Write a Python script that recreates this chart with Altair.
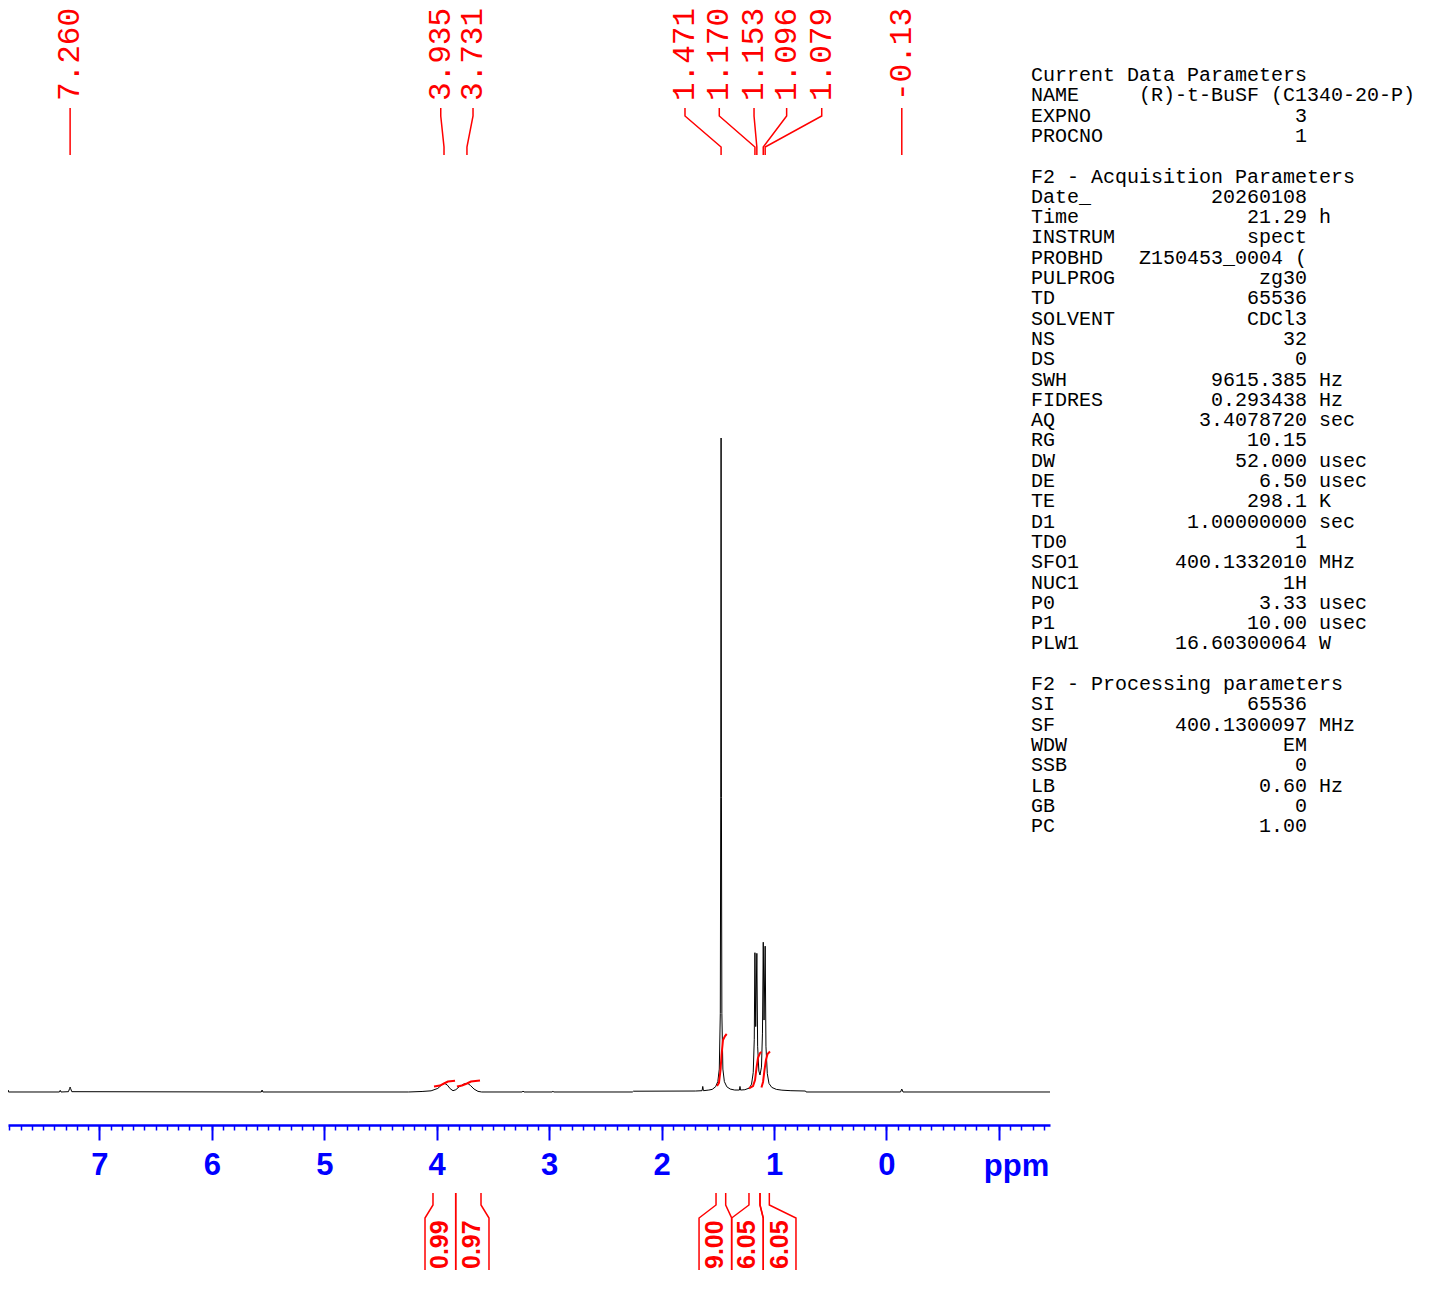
import altair as alt
import pandas as pd

# ---------------- data ----------------
# 1H spectrum trace: chemical shift (ppm) and relative intensity (tallest peak = 100)
trace_ppm = [7.90, 7.815, 7.812, 7.808, 7.355, 7.348, 7.341, 7.275, 7.265, 7.260, 7.255, 7.245,
             5.56, 5.553, 5.546, 4.25, 4.13, 4.05, 3.99, 3.955, 3.930, 3.905, 3.88, 3.855,
             3.83, 3.80, 3.755, 3.725, 3.70, 3.668, 3.633, 3.60, 3.24, 3.232, 3.224,
             2.974, 2.966, 2.958, 2.26, 2.25, 1.70, 1.64, 1.634, 1.628, 1.58, 1.55, 1.52,
             1.50, 1.487, 1.478, 1.474, 1.471, 1.468, 1.464, 1.455, 1.442, 1.42, 1.39, 1.35,
             1.308, 1.303, 1.298, 1.26, 1.22, 1.20, 1.185, 1.176, 1.170, 1.163, 1.153, 1.146,
             1.135, 1.125, 1.112, 1.103, 1.096, 1.089, 1.079, 1.072, 1.06, 1.045, 1.02, 0.98,
             0.93, 0.85, 0.72, 0.715, -0.125, -0.136, -0.147, -1.454]
trace_int = [0.0, 0.0, 0.3, 0.0, 0.0, 0.25, 0.0, 0.05, 0.5, 0.75, 0.5, 0.05,
             0.0, 0.3, 0.0, 0.0, 0.08, 0.18, 0.55, 1.1, 1.33, 1.05, 0.5, 0.2,
             0.35, 0.8, 1.25, 1.33, 1.0, 0.45, 0.1, 0.0, 0.0, 0.15, 0.0,
             0.0, 0.12, 0.0, 0.0, 0.12, 0.15, 0.2, 0.85, 0.2, 0.3, 0.4, 0.8,
             1.6, 3.5, 12.0, 45.0, 100.0, 45.0, 12.0, 3.5, 1.6, 0.8, 0.45, 0.3,
             0.3, 0.85, 0.3, 0.35, 0.6, 1.2, 3.0, 8.0, 21.3, 10.0, 21.2, 7.0,
             3.2, 2.6, 3.8, 9.0, 22.9, 11.0, 22.3, 7.0, 2.8, 1.3, 0.7, 0.4,
             0.28, 0.2, 0.15, 0.0, 0.0, 0.45, 0.0, 0.0]

# integral curves (red), one id per integrated region
integral_id = [1, 1, 1, 1, 1,
               2, 2, 2, 2, 2,
               3, 3, 3, 3, 3, 3, 3,
               4, 4, 4, 4, 4, 4, 4,
               5, 5, 5, 5, 5, 5]
integral_ppm = [4.024, 3.971, 3.935, 3.900, 3.837,
                3.820, 3.775, 3.731, 3.695, 3.615,
                1.507, 1.490, 1.476, 1.467, 1.454, 1.436, 1.421,
                1.223, 1.187, 1.169, 1.156, 1.143, 1.125, 1.112,
                1.112, 1.098, 1.085, 1.072, 1.058, 1.036]
integral_val = [0.84, 0.99, 1.30, 1.60, 1.73,
                0.84, 0.99, 1.30, 1.60, 1.75,
                0.92, 1.38, 3.36, 5.66, 7.95, 8.56, 8.87,
                0.54, 0.92, 1.83, 3.67, 5.20, 5.96, 6.12,
                0.69, 1.53, 3.36, 4.89, 5.81, 6.19]

# peak picking labels
peak_labels = ["7.260", "3.935", "3.731", "1.471", "1.170", "1.153", "1.096", "1.079", "-0.136"]
peak_ppm = [7.260, 3.935, 3.731, 1.471, 1.170, 1.153, 1.096, 1.079, -0.136]
peak_label_ppm = [7.260, 3.964, 3.677, 1.792, 1.487, 1.178, 0.888, 0.576, -0.136]

# integration labels and their regions
int_labels = ["0.99", "0.97", "9.00", "6.05", "6.05"]
int_top_left = [4.033, 3.831, 1.516, 1.223, 1.125]
int_top_right = [3.831, 3.606, 1.430, 1.125, 1.042]
int_box_left = [4.104, 3.831, 1.667, 1.377, 1.096]
int_box_right = [3.831, 3.535, 1.377, 1.096, 0.805]

# axis ticks
major_ticks = [7, 6, 5, 4, 3, 2, 1, 0, -1]
minor_ticks = [round(7.8 - 0.1 * k, 1) for k in range(93)]

# parameter block
current_params = [("NAME", "(R)-t-BuSF (C1340-20-P)", ""), ("EXPNO", "3", ""), ("PROCNO", "1", "")]
acq_params = [("Date_", "20260108", ""), ("Time", "21.29", "h"), ("INSTRUM", "spect", ""),
              ("PROBHD", "Z150453_0004 (", ""), ("PULPROG", "zg30", ""), ("TD", "65536", ""),
              ("SOLVENT", "CDCl3", ""), ("NS", "32", ""), ("DS", "0", ""),
              ("SWH", "9615.385", "Hz"), ("FIDRES", "0.293438", "Hz"), ("AQ", "3.4078720", "sec"),
              ("RG", "10.15", ""), ("DW", "52.000", "usec"), ("DE", "6.50", "usec"),
              ("TE", "298.1", "K"), ("D1", "1.00000000", "sec"), ("TD0", "1", ""),
              ("SFO1", "400.1332010", "MHz"), ("NUC1", "1H", ""), ("P0", "3.33", "usec"),
              ("P1", "10.00", "usec"), ("PLW1", "16.60300064", "W")]
proc_params = [("SI", "65536", ""), ("SF", "400.1300097", "MHz"), ("WDW", "EM", ""),
               ("SSB", "0", ""), ("LB", "0.60", "Hz"), ("GB", "0", ""), ("PC", "1.00", "")]

# ---------------- build tables ----------------
RED = "#ff0000"
BLUE = "#0000ff"

trace_df = pd.DataFrame({"ppm": trace_ppm, "intensity": trace_int,
                         "ord": list(range(len(trace_ppm)))})
integ_df = pd.DataFrame({"id": integral_id, "ppm": integral_ppm, "intensity": integral_val,
                         "ord": list(range(len(integral_ppm)))})

# connectors from label to peak (y in pixels of the plot area)
conn_rows = []
for i, (lp, pp) in enumerate(zip(peak_label_ppm, peak_ppm)):
    for k, (x, y) in enumerate([(lp, 100), (lp, 108), (pp, 139), (pp, 147)]):
        conn_rows.append({"id": i, "ppm": x, "ypx": y, "ord": k})
conn_df = pd.DataFrame(conn_rows)
plab_df = pd.DataFrame({"ppm": peak_label_ppm, "label": peak_labels})

br_rows = []
for i in range(len(int_labels)):
    for side, (tp, bp) in enumerate([(int_top_left[i], int_box_left[i]),
                                     (int_top_right[i], int_box_right[i])]):
        for k, (x, y) in enumerate([(tp, 1185), (tp, 1197), (bp, 1210), (bp, 1262)]):
            br_rows.append({"id": i * 2 + side, "ppm": x, "ypx": y, "ord": k})
br_df = pd.DataFrame(br_rows)
ilab_df = pd.DataFrame({"ppm": [(a + b) / 2 for a, b in zip(int_box_left, int_box_right)],
                        "label": int_labels})

lines = []
for header, params in [("Current Data Parameters", current_params),
                       ("F2 - Acquisition Parameters", acq_params),
                       ("F2 - Processing parameters", proc_params)]:
    if lines:
        lines.append("")
    lines.append(header)
    for name, value, unit in params:
        s = name.ljust(max(23 - len(value), 9)) + value
        if unit:
            s += " " + unit
        lines.append(s)
param_df = pd.DataFrame({"line": [s.replace(" ", "\u00a0") for s in lines],
                         "ypx": [67 + 20.3 * i for i in range(len(lines))]})

# ---------------- chart ----------------
x_scale = alt.Scale(domain=[7.8124, -1.4540], nice=False, zero=False)
y_scale = alt.Scale(domain=[-5.046, 165.75], nice=False, zero=False)

major_axis = alt.Axis(values=major_ticks, orient="bottom", grid=False,
                      tickSize=15, tickWidth=2, tickColor=BLUE,
                      domainColor=BLUE, domainWidth=2.5,
                      labelFont="Liberation Sans", labelFontWeight="bold", labelFontSize=31,
                      labelColor=BLUE, labelPadding=10, labelFlush=False, labelOverlap=False,
                      labelExpr="datum.value == -1 ? '' : datum.label",
                      title="ppm", titleX=1008, titleY=50, titleAlign="center",
                      titleBaseline="alphabetic", titleFont="Liberation Sans",
                      titleFontWeight="bold", titleFontSize=31, titleColor=BLUE)
minor_axis = alt.Axis(values=minor_ticks, orient="bottom", grid=False, domain=False,
                      labels=False, title=None, tickSize=5, tickWidth=1.5, tickColor=BLUE)

trace = alt.Chart(trace_df).mark_line(color="black", strokeWidth=1).encode(
    x=alt.X("ppm:Q", scale=x_scale, axis=major_axis),
    y=alt.Y("intensity:Q", scale=y_scale, axis=None),
    order=alt.Order("ord:Q"))

integ = alt.Chart(integ_df).mark_line(color=RED, strokeWidth=2).encode(
    x=alt.X("ppm:Q", scale=x_scale, axis=minor_axis),
    y=alt.Y("intensity:Q", scale=y_scale, axis=None),
    detail="id:N", order=alt.Order("ord:Q"))

conn = alt.Chart(conn_df).mark_line(color=RED, strokeWidth=1.5).encode(
    x=alt.X("ppm:Q", scale=x_scale, axis=None),
    y=alt.Y("ypx:Q", scale=None, axis=None),
    detail="id:N", order=alt.Order("ord:Q"))

plab = alt.Chart(plab_df).mark_text(angle=270, align="left", baseline="middle",
                                    font="Liberation Mono", fontSize=31, color=RED).encode(
    x=alt.X("ppm:Q", scale=x_scale, axis=None),
    y=alt.value(93), text="label:N")

brackets = alt.Chart(br_df).mark_line(color=RED, strokeWidth=1.5).encode(
    x=alt.X("ppm:Q", scale=x_scale, axis=None),
    y=alt.Y("ypx:Q", scale=None, axis=None),
    detail="id:N", order=alt.Order("ord:Q"))

ilab = alt.Chart(ilab_df).mark_text(angle=270, align="left", baseline="middle",
                                    font="Liberation Sans", fontWeight="bold",
                                    fontSize=25, color=RED).encode(
    x=alt.X("ppm:Q", scale=x_scale, axis=None),
    y=alt.value(1261), text="label:N")

params = alt.Chart(param_df).mark_text(align="left", baseline="middle",
                                       font="Liberation Mono", fontSize=20,
                                       color="black").encode(
    x=alt.value(1023),
    y=alt.Y("ypx:Q", scale=None, axis=None),
    text="line:N")

chart = alt.layer(trace, integ, conn, plab, brackets, ilab, params).resolve_axis(
    x="independent").resolve_scale(y="independent").properties(
    width=1042, height=1117,
    autosize=alt.AutoSizeParams(type="none"),
    padding={"left": 0, "top": 0, "right": 387, "bottom": 165},
).configure_view(stroke=None)

chart.save("out.html", embed_options={"renderer": "svg", "actions": False})
